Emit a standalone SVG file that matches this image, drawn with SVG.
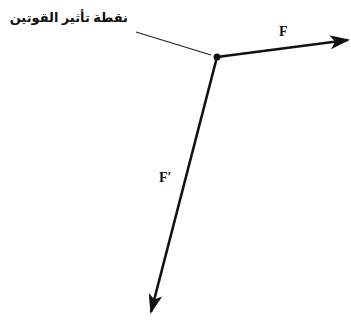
<svg xmlns="http://www.w3.org/2000/svg" width="351" height="320" viewBox="0 0 351 320">
<style>
.vec{stroke:#111;stroke-width:2.6;fill:none}
.lead{stroke:#222;stroke-width:1.3;fill:none}
.lbl{font-family:"Liberation Serif",serif;font-weight:bold;font-size:14px;fill:#111}
.ar{font-family:"Noto Sans","DejaVu Sans",sans-serif;font-weight:bold;font-size:13px;fill:#111}
</style>
<defs>
<marker id="ah" viewBox="0 0 20 14" refX="18" refY="7" markerWidth="20" markerHeight="14" markerUnits="userSpaceOnUse" orient="auto">
<path d="M0,0 L20,7 L0,14 L5,7 Z" fill="#111"/>
</marker>
</defs>
<rect width="351" height="320" fill="#fff"/>
<g id="connectors">
<line class="lead" x1="136" y1="32" x2="211" y2="55"/>
<line class="vec" x1="217" y1="57" x2="348" y2="40" marker-end="url(#ah)"/>
<line class="vec" x1="217" y1="57" x2="151" y2="312" marker-end="url(#ah)"/>
</g>
<g id="point">
<circle cx="217" cy="57" r="3.5" fill="#111"/>
</g>
<g id="label-point">
<text class="ar" x="128" y="22" text-anchor="start" direction="rtl">نقطة تأثير القوتين</text>
</g>
<g id="label-F">
<text class="lbl" x="279" y="36">F</text>
</g>
<g id="label-Fp">
<text class="lbl" x="159" y="182">F′</text>
</g>
</svg>
